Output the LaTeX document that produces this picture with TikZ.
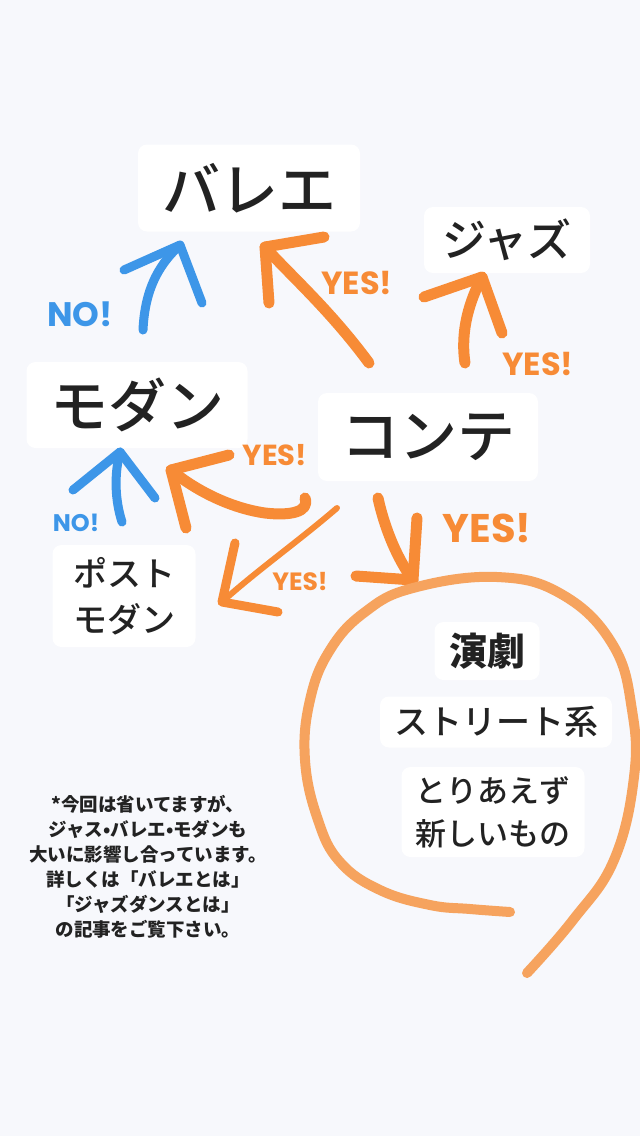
\documentclass[tikz,border=0pt]{standalone}
\usepackage{fontspec}
\setmainfont{Noto Sans CJK JP}
\IfFontExistsTF{Noto Sans CJK JP Medium}
  {\newfontfamily\jpmed{Noto Sans CJK JP Medium}}
  {\newcommand{\jpmed}{\bfseries}}
\newfontfamily\yesfont{Poppins}
\usetikzlibrary{calc}
\definecolor{bg}{HTML}{F7F8FC}
\definecolor{ink}{HTML}{222222}
\definecolor{dancorange}{HTML}{F78B36}
\definecolor{looporange}{HTML}{F6A35E}
\definecolor{danblue}{HTML}{3D96E8}
\newcommand{\fs}[2]{\fontsize{#1}{#2}\selectfont}
\begin{document}
\begin{tikzpicture}[x=1pt,y=-1pt,
    box/.style={fill=white, rounded corners=9pt, inner sep=0pt, text=ink, align=center},
    yes/.style={text=dancorange, inner sep=0pt},
    no/.style={text=danblue, inner sep=0pt},
    orangearrow/.style={draw=dancorange, line width=11pt, line cap=round, line join=round},
    thinarrow/.style={draw=dancorange, line width=6pt, line cap=round, line join=round},
    bluearrow/.style={draw=danblue, line width=9pt, line cap=round, line join=round},
    loopstroke/.style={draw=looporange, line width=10pt, line cap=round, line join=round}]
    \fill [bg] (0,0) rectangle (640,1136);
    \useasboundingbox (0,0) rectangle (640,1136);
    % boxes
    \node [box, minimum width=222pt, minimum height=87pt, font=\jpmed\fs{58}{58}] (ballet) at (249,188) {バレエ};
    \node [box, minimum width=166pt, minimum height=66pt, font=\jpmed\fs{44}{44}] (jazz) at (507,240) {ジャズ};
    \node [box, minimum width=221pt, minimum height=86pt, font=\jpmed\fs{58}{58}] (modern) at (137,405) {モダン};
    \node [box, minimum width=220pt, minimum height=88pt, font=\jpmed\fs{58}{58}] (conte) at (428,437) {コンテ};
    \node [box, minimum width=143pt, minimum height=102pt, font=\jpmed\fs{34}{46}] (postmodern) at (124,596) {ポスト\\モダン};
    \node [box, minimum width=105pt, minimum height=58pt, font=\fs{38}{38}\bfseries] (engeki) at (487,651) {演劇};
    \node [box, minimum width=232pt, minimum height=51pt, font=\jpmed\fs{34}{34}] (street) at (496,722) {ストリート系};
    \node [box, minimum width=183pt, minimum height=90pt, font=\jpmed\fs{31}{43}] (newthings) at (493,812) {とりあえず\\新しいもの};
    % labels
    \node [no, font=\yesfont\fs{34}{34}\bfseries] (no top) at (80,314) {NO!};
    \node [no, font=\yesfont\fs{24}{24}\bfseries] (no low) at (76,523) {NO!};
    \node [yes, font=\yesfont\fs{32}{32}\bfseries] (yes ballet) at (357,283) {YES!};
    \node [yes, font=\yesfont\fs{32}{32}\bfseries] (yes jazz) at (538,364) {YES!};
    \node [yes, font=\yesfont\fs{29}{29}\bfseries] (yes modern) at (275,455) {YES!};
    \node [yes, font=\yesfont\fs{25}{25}\bfseries] (yes post) at (300,582) {YES!};
    \node [yes, font=\yesfont\fs{40}{40}\bfseries] (yes other) at (487,528) {YES!};
    \node [text=ink, align=center, font=\fs{18.5}{25}\bfseries] (note) at (148,867)
        {*今回は省いてますが、\\ジャス•バレエ•モダンも\\大いに影響し合っています。\\詳しくは「バレエとは」\\「ジャズダンスとは」\\の記事をご覧下さい。};
    % arrow ends
    \coordinate (mb tail) at (143,330);
    \coordinate (mb tip) at (180,245);
    \coordinate (cb tail) at (369,363);
    \coordinate (cb tip) at (265,247);
    \coordinate (cj tail) at (465,363);
    \coordinate (cj tip) at (482,277);
    \coordinate (pm tail) at (122,522);
    \coordinate (pm tip) at (120,452);
    \coordinate (cm tail) at (305,498);
    \coordinate (cm tip) at (171,470);
    \coordinate (cp tail) at (337,508);
    \coordinate (cp tip) at (222,602);
    \coordinate (co tail) at (378,498);
    \coordinate (co tip) at (413,580);
    % blue arrows
    \draw [bluearrow] (mb tail) .. controls (145,285) and (162,262) .. (mb tip);
    \draw [bluearrow] ($(mb tip)+(-56,25)$) -- (mb tip) -- ($(mb tip)+(22,58)$);
    \draw [bluearrow] (pm tail) .. controls (115,500) and (114,475) .. (pm tip);
    \draw [bluearrow] ($(pm tip)+(-47,38)$) -- (pm tip) -- ($(pm tip)+(35,46)$);
    % orange arrows
    \draw [orangearrow] (cb tail) .. controls (330,310) and (290,275) .. (cb tip);
    \draw [orangearrow] ($(cb tip)+(4,56)$) -- (cb tip) -- ($(cb tip)+(59,-10)$);
    \draw [orangearrow] (cj tail) .. controls (460,330) and (470,300) .. (cj tip);
    \draw [orangearrow] ($(cj tip)+(-58,20)$) -- (cj tip) -- ($(cj tip)+(20,56)$);
    \draw [orangearrow] (cm tail) .. controls (310,512) and (290,516) .. (265,513)
        .. controls (230,508) and (195,490) .. (cm tip);
    \draw [orangearrow] ($(cm tip)+(58,-15)$) -- (cm tip) -- ($(cm tip)+(15,58)$);
    \draw [thinarrow] (cp tail) .. controls (300,540) and (255,572) .. (cp tip);
    \draw [orangearrow, line width=9pt] ($(cp tip)+(13,-59)$) -- (cp tip) -- ($(cp tip)+(56,10)$);
    \draw [orangearrow] (co tail) .. controls (385,530) and (398,560) .. (co tip);
    \draw [orangearrow] ($(co tip)+(4,-62)$) -- (co tip) -- ($(co tip)+(-57,-4)$);
    % loop round the other styles
    \draw [loopstroke] plot [smooth, tension=0.7] coordinates {(510,912) (470,909) (430,905) (380,890) (340,862) (318,820) (305,760) (310,700) (330,650) (365,612) (413,588) (497,577) (563,595) (613,645) (632,710) (634,777) (614,860) (573,920) (527,973)};
\end{tikzpicture}
\end{document}
